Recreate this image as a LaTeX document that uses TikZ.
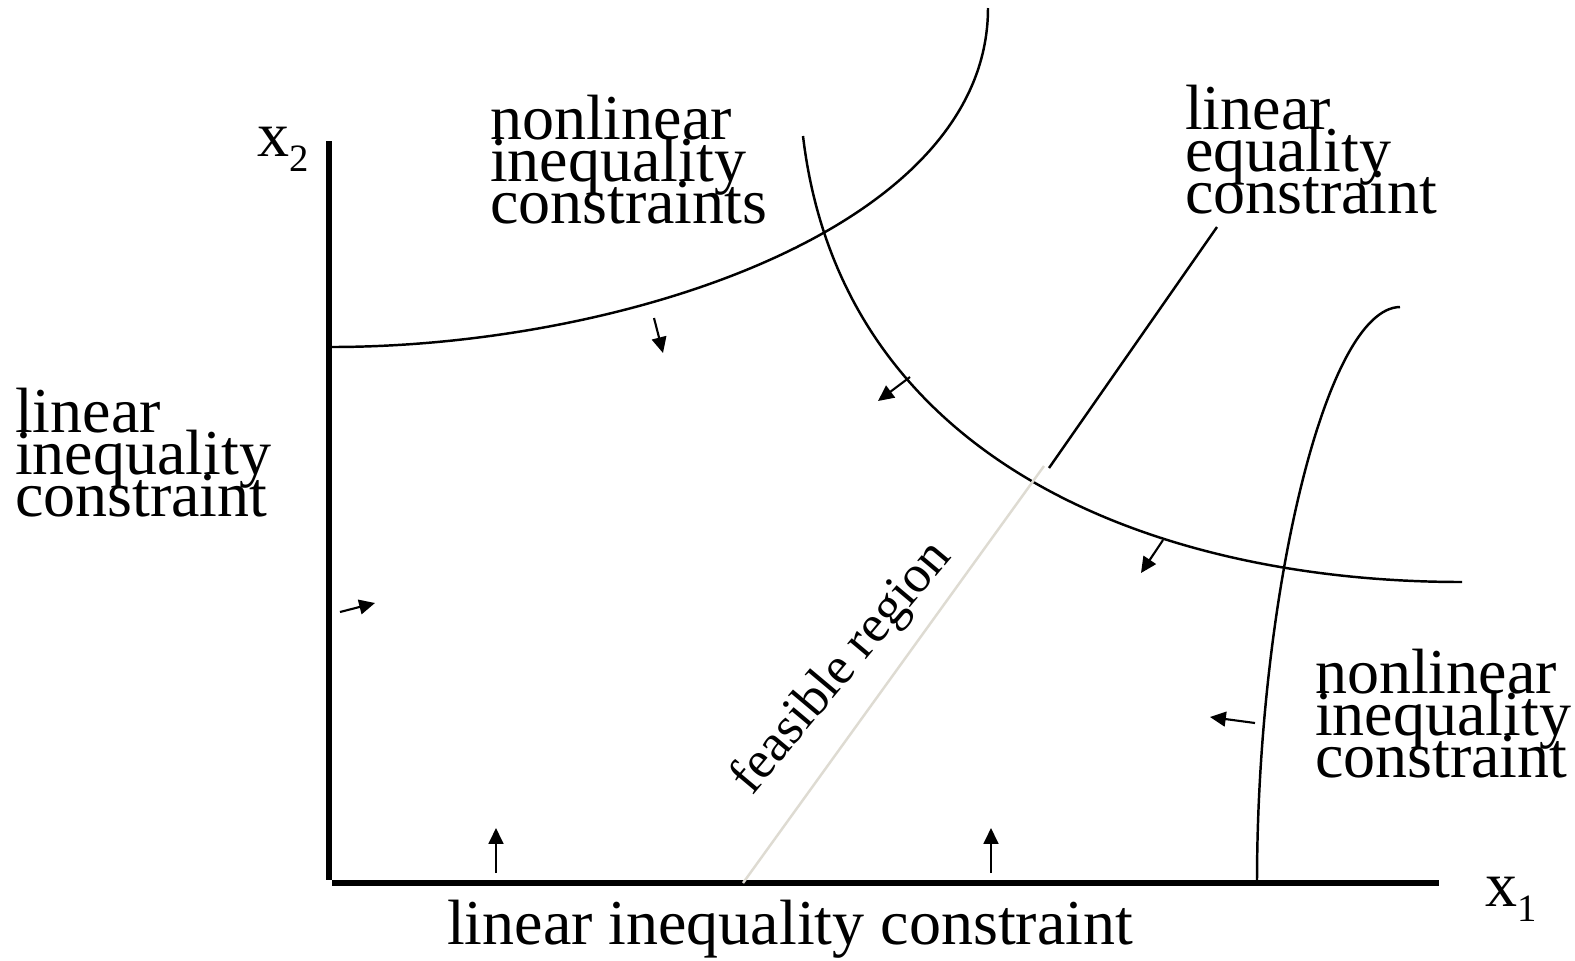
\documentclass[tikz,border=0pt]{standalone}
\usepackage{fontspec}
\setmainfont{Liberation Serif}
\usetikzlibrary{arrows.meta}
\definecolor{faint}{RGB}{222,219,210}
\newcommand{\lstack}[3]{\vtop{\baselineskip=11.95pt\lineskiplimit=-100pt\lineskip=0pt\hbox{#1}\hbox{#2}\hbox{#3}}}
\begin{document}
\begin{tikzpicture}[x=0.01cm,y=-0.01cm,
  lbl/.style={inner sep=0pt, outer sep=0pt, font=\fontsize{18.2}{11.95}\selectfont, anchor=base west},
  curve/.style={line width=0.7pt},
  axis/.style={line width=1.6pt},
  hint/.style={line width=0.6pt, -{Triangle[length=4.5pt,width=4.2pt]}}]
\useasboundingbox (0,0) rectangle (1575,960);
% axes
\coordinate (ytop) at (329,141);
\coordinate (ybot) at (329,880);
\coordinate (xleft) at (332,883);
\coordinate (xright) at (1439,883);
\draw[axis] (ytop) -- (ybot);
\draw[axis] (xleft) -- (xright);
% nonlinear constraint curves
\draw[curve] (331,347) .. controls (620,347) and (988,230) .. (988,8);
\draw[curve] (803,136) .. controls (842,466) and (1162,582) .. (1462,582);
\draw[curve] (1400,307) .. controls (1325,308) and (1257,600) .. (1257,883);
% linear equality constraint
\coordinate (eqA) at (1217,227);
\coordinate (eqB) at (1049,468);
\coordinate (eqC) at (1044,466);
\coordinate (eqD) at (743,883);
\draw[curve] (eqA) -- (eqB);
\draw[line width=0.7pt, faint] (eqC) -- (eqD);
% direction hints
\draw[hint] (654,318) -- (663,353);
\draw[hint] (910,377) -- (878,401);
\draw[hint] (1163,540) -- (1141,573);
\draw[hint] (1255,723) -- (1210,717);
\draw[hint] (340,612) -- (375,603);
\draw[hint] (496,873) -- (496,828);
\draw[hint] (991,873) -- (991,828);
% labels
\node[lbl] (nlA) at (490,139) {\lstack{nonlinear}{inequality}{constraints}};
\node[lbl] (leq) at (1185,129) {\lstack{linear}{equality}{constraint}};
\node[lbl] (lin) at (15,432) {\lstack{linear}{inequality}{constraint}};
\node[lbl] (nlB) at (1315,693) {\lstack{nonlinear}{inequality}{constraint}};
\node[lbl] (linB) at (447,944) {linear inequality constraint};
\node[lbl] (x2lab) at (257,156) {x\raisebox{-4.5pt}{\fontsize{11}{11}\selectfont 2}};
\node[lbl] (x1lab) at (1485,906) {x\raisebox{-4.3pt}{\fontsize{11}{11}\selectfont 1}};
\node[lbl, font=\fontsize{15}{15}\selectfont, rotate=50] (feas) at (752,796) {feasible region};
\end{tikzpicture}
\end{document}
